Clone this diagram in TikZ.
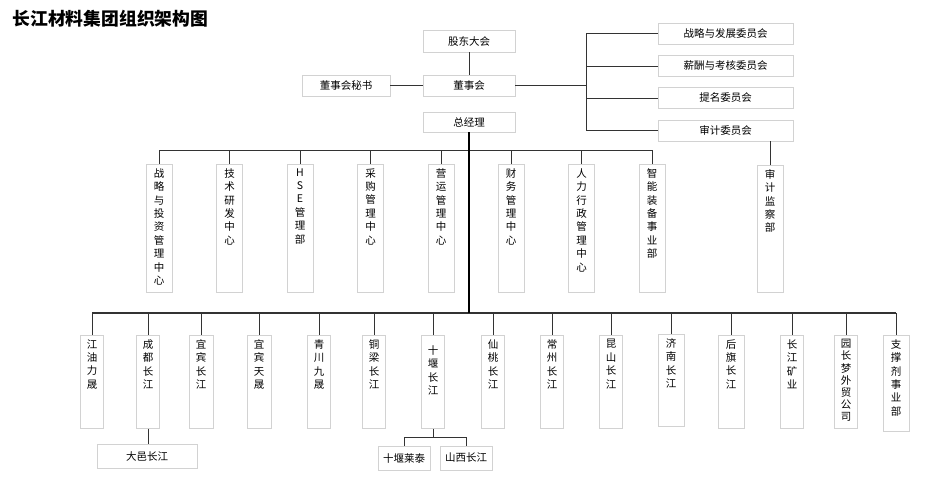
\documentclass[tikz,border=0pt]{standalone}
\usepackage{fontspec}
\setmainfont{Noto Sans CJK SC}
\usetikzlibrary{positioning, calc}
\tikzset{
    hbox/.style={rectangle, draw=gray!35, line width=0.9pt, minimum height=21pt, minimum width=92pt, inner sep=0pt, font=\fontsize{10.5}{12}\selectfont},
    vbox/.style={rectangle, draw=gray!35, line width=0.9pt, anchor=north, inner xsep=0pt, inner ysep=4pt, minimum width=26pt, font=\fontsize{10.5}{13.4}\selectfont},
    link/.style={draw=black!80, line width=1pt},
    trunk/.style={draw=black, line width=2pt}
}
\newcommand{\vtxt}[2]{\parbox[c][#1][t]{14pt}{\centering #2}}

\begin{document}
\begin{tikzpicture}[x=1pt, y=-1pt]
        \useasboundingbox (0,0) rectangle (933,483);

        % Title
        \node[anchor=west, font=\fontsize{17.8}{20}\selectfont\bfseries] (title) at (9,19) {长江材料集团组织架构图};

        % Board level
        \node[hbox, minimum height=22pt] (gudong) at (469,41) {股东大会};
        \node[hbox] (dongshi) at (469,85.5) {董事会};
        \node[hbox, minimum width=88pt] (mishu) at (346,85.5) {董事会秘书};
        \node[hbox, minimum height=20pt] (zongjingli) at (469,122) {总经理};

        % Committees
        \node[hbox, minimum width=135pt] (wyh1) at (725.5,33.5) {战略与发展委员会};
        \node[hbox, minimum width=135pt] (wyh2) at (725.5,66) {薪酬与考核委员会};
        \node[hbox, minimum width=135pt] (wyh3) at (725.5,98) {提名委员会};
        \node[hbox, minimum width=135pt] (wyh4) at (725.5,130.5) {审计委员会};
        \node[vbox] (sjjc) at (770,165) {\vtxt{119pt}{审\\计\\监\\察\\部}};

        % Departments
        \node[vbox] (bm1) at (159,164) {\vtxt{120pt}{战\\略\\与\\投\\资\\管\\理\\中\\心}};
        \node[vbox] (bm2) at (229.5,164) {\vtxt{120pt}{技\\术\\研\\发\\中\\心}};
        \node[vbox] (bm3) at (300,164) {\vtxt{120pt}{H\\S\\E\\管\\理\\部}};
        \node[vbox] (bm4) at (370.5,164) {\vtxt{120pt}{采\\购\\管\\理\\中\\心}};
        \node[vbox] (bm5) at (441,164) {\vtxt{120pt}{营\\运\\管\\理\\中\\心}};
        \node[vbox] (bm6) at (511,164) {\vtxt{120pt}{财\\务\\管\\理\\中\\心}};
        \node[vbox] (bm7) at (581.5,164) {\vtxt{120pt}{人\\力\\行\\政\\管\\理\\中\\心}};
        \node[vbox] (bm8) at (652,164) {\vtxt{120pt}{智\\能\\装\\备\\事\\业\\部}};

        % Subsidiaries
        \node[vbox, minimum width=23pt] (zg1) at (92,335) {\vtxt{85pt}{江\\油\\力\\晟}};
        \node[vbox, minimum width=23pt] (zg2) at (148,335) {\vtxt{85pt}{成\\都\\长\\江}};
        \node[vbox, minimum width=24pt] (zg3) at (201,335) {\vtxt{85pt}{宜\\宾\\长\\江}};
        \node[vbox, minimum width=24pt] (zg4) at (259,335) {\vtxt{85pt}{宜\\宾\\天\\晟}};
        \node[vbox, minimum width=23pt] (zg5) at (319,335) {\vtxt{85pt}{青\\川\\九\\晟}};
        \node[vbox, minimum width=23pt] (zg6) at (374,335) {\vtxt{85pt}{铜\\梁\\长\\江}};
        \node[vbox, minimum width=23pt] (zg7) at (433,335) {\vtxt{85pt}{\vspace*{6pt}十\\堰\\长\\江}};
        \node[vbox, minimum width=23pt] (zg8) at (493,335) {\vtxt{85pt}{仙\\桃\\长\\江}};
        \node[vbox, minimum width=23pt] (zg9) at (552,335) {\vtxt{85pt}{常\\州\\长\\江}};
        \node[vbox, minimum width=23pt] (zg10) at (611,335) {\vtxt{85pt}{昆\\山\\长\\江}};
        \node[vbox] (zg11) at (671,334) {\vtxt{84pt}{济\\南\\长\\江}};
        \node[vbox] (zg12) at (731,335) {\vtxt{85pt}{后\\旗\\长\\江}};
        \node[vbox, minimum width=23pt] (zg13) at (792,335) {\vtxt{85pt}{长\\江\\矿\\业}};
        \node[vbox, minimum width=23pt, font=\fontsize{10.5}{12.2}\selectfont] (zg14) at (846,335) {\vtxt{85pt}{园\\长\\梦\\外\\贸\\公\\司}};
        \node[vbox] (zg15) at (896,335) {\vtxt{88pt}{支\\撑\\剂\\事\\业\\部}};

        \node[hbox, minimum width=100pt, minimum height=24pt] (dayi) at (147,456) {大邑长江};
        \node[hbox, minimum width=52pt, minimum height=24pt] (laitai) at (404,458) {十堰莱泰};
        \node[hbox, minimum width=52pt, minimum height=24pt] (shanxi) at (466,458) {山西长江};

        % Connectors: board
        \draw[link] (gudong) -- (dongshi);
        \draw[link] (mishu) -- (dongshi);
        \coordinate (cbus) at (586,85.5);
        \draw[link] (dongshi) -- (cbus);
        \draw[link] (cbus |- wyh1.west) -- (cbus |- wyh4.west);
        \foreach \i in {1,...,4} {
            \draw[link] (cbus |- wyh\i.west) -- (wyh\i.west);
        }
        \draw[link] (sjjc.north) -- (sjjc.north |- wyh4.south);

        % Connectors: trunk and buses
        \coordinate (dbus) at (469,150);
        \coordinate (sbus) at (469,313);
        \draw[link] (bm1.north |- dbus) -- (bm8.north |- dbus);
        \foreach \i in {1,...,8} {
            \draw[link] (bm\i.north |- dbus) -- (bm\i.north);
        }
        \draw[link, line width=1.3pt] (zg1.north |- sbus) -- (zg15.north |- sbus);
        \foreach \i in {1,...,15} {
            \draw[link] (zg\i.north |- sbus) -- (zg\i.north);
        }
        \draw[trunk] (zongjingli.south) -- (sbus);

        % Connectors: second level
        \draw[link] (zg2.south) -- (zg2.south |- dayi.north);
        \coordinate (sybus) at (433,437);
        \draw[link] (zg7.south) -- (sybus);
        \draw[link] (laitai.north |- sybus) -- (shanxi.north |- sybus);
        \draw[link] (laitai.north |- sybus) -- (laitai.north);
        \draw[link] (shanxi.north |- sybus) -- (shanxi.north);
    \end{tikzpicture}
\end{document}
